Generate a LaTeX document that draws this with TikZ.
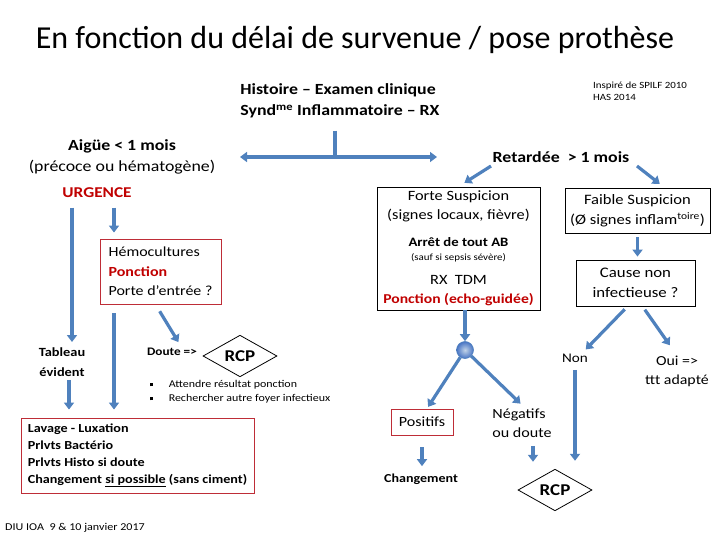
\documentclass[tikz,border=0pt]{standalone}
\usepackage{fontspec}
\setmainfont{Carlito}[FakeStretch=1.15]
\newfontfamily\titlefont{Carlito}
\usepackage{tikz}
\usetikzlibrary{arrows.meta,shapes.geometric}
\definecolor{arrowblue}{RGB}{79,129,189}
\definecolor{urgred}{RGB}{192,0,0}
\definecolor{boxred}{RGB}{190,45,55}
\tikzset{>={Triangle[width=10pt,length=7pt]}}
\tikzset{
  flow/.style={->,draw=arrowblue,line width=3.2pt},
  stem/.style={draw=arrowblue,line width=3.2pt},
  redbox/.style={draw=boxred,line width=0.9pt,align=left},
  blackbox/.style={draw,line width=0.8pt,align=center},
  rcpdiamond/.style={diamond,draw,line width=0.8pt,inner sep=0pt,minimum width=74pt,minimum height=36pt,font=\setfs{16.5}{17}\bfseries},
}
\newcommand\setfs[2]{\fontsize{#1}{#2}\selectfont}

\begin{document}
\begin{tikzpicture}[x=1pt,y=-1pt]
  \useasboundingbox (0,0) rectangle (720,540);

  \node (title) at (355,40) {\titlefont\setfs{32}{36}En fonction du délai de survenue / pose prothèse};

  \node[align=left,font=\setfs{15.5}{21}\bfseries] (hist) at (340,101) {Histoire -- Examen clinique\\Synd\textsuperscript{me} Inflammatoire -- RX};
  \node[align=left,font=\setfs{9.5}{12}] (inspire) at (640,91) {Inspiré de SPILF 2010\\HAS 2014};

  % split early / delayed
  \coordinate (split) at (335,157);
  \coordinate (toaigue) at (240,157);
  \coordinate (toretard) at (437,157);
  \draw[stem,shorten <=9pt] (split |- hist.south) -- (split);
  \draw[flow] (split) -- (toaigue);
  \draw[flow] (split) -- (toretard);

  \node[align=center,font=\setfs{15.5}{21}] (aigue) at (122,157) {\textbf{Aigüe < 1 mois}\\(précoce ou hématogène)};
  \node[font=\setfs{15}{16}\bfseries,text=urgred] (urgence) at (97,193) {URGENCE};
  \node[font=\setfs{15.5}{18}\bfseries] (retard) at (561,157) {Retardée\ \ > 1 mois};

  % delayed side
  \node[blackbox,minimum width=163pt,minimum height=123pt,font=\setfs{14.2}{19}] (forte) at (458.5,248.5)
    {Forte Suspicion\\(signes locaux, fièvre)\\[8pt]{\setfs{12.8}{19}\bfseries Arrêt de tout AB}\\[-5pt]{\setfs{9.5}{9}(sauf si sepsis sévère)}\\[5pt]RX\ \ TDM\\\textcolor{urgred}{\setfs{13.6}{19}\bfseries Ponction (echo-guidée)}};
  \node[blackbox,minimum width=145pt,minimum height=45pt,font=\setfs{14.4}{20}] (faible) at (637.5,210.5) {Faible Suspicion\\(Ø signes inflam\textsuperscript{toire})};
  \node[blackbox,minimum width=119pt,minimum height=46pt,font=\setfs{14.6}{20}] (cause) at (635.5,283) {Cause non\\infectieuse ?};

  \node[circle,minimum size=17pt,inner sep=0pt,draw=arrowblue,line width=0.6pt,inner color=arrowblue!35!white,outer color=arrowblue!90!blue] (hub) at (465,350) {};
  \node[redbox,minimum width=62pt,minimum height=26pt,font=\setfs{14}{16}] (positifs) at (422,422) {Positifs};
  \node[align=left,font=\setfs{14}{19}] (negatifs) at (522,423) {Négatifs\\ou doute};
  \node[font=\setfs{12.2}{15}\bfseries] (changement) at (421,479) {Changement};
  \node[rcpdiamond] (rcpb) at (555,490) {RCP};
  \node[font=\setfs{13.2}{16}] (non) at (575,358) {Non};
  \node[align=center,font=\setfs{13.8}{19}] (oui) at (677,371.5) {Oui =>\\ttt adapté};

  % early side
  \node[redbox,minimum width=121pt,minimum height=65pt,font=\setfs{13.9}{19.5}] (hemo) at (160.5,271.5) {Hémocultures\\\textcolor{urgred}{\textbf{Ponction}}\\Porte d’entrée ?};
  \node[align=center,font=\setfs{12.5}{20}\bfseries] (tableau) at (62,362) {Tableau\\évident};
  \node[font=\setfs{11.5}{15}\bfseries] (doute) at (172,352) {Doute =>};
  \node[rcpdiamond] (rcpa) at (240,356) {RCP};
  \node[font=\setfs{10.4}{14}] (todo) at (240,392)
    {\begin{tabular}{@{}l@{\hspace{16pt}}l@{}}\raisebox{1.5pt}{\rule{3pt}{3pt}} & Attendre résultat ponction\\\raisebox{1.5pt}{\rule{3pt}{3pt}} & Rechercher autre foyer infectieux\end{tabular}};
  \node[redbox,minimum width=233pt,minimum height=75pt,font=\setfs{12.3}{17}\bfseries] (lavage) at (137.5,455.5)
    {Lavage - Luxation\\Prlvts Bactério\\Prlvts Histo si doute\\Changement \underline{si possible} (sans ciment)};

  \node[font=\setfs{10.5}{12}] (diu) at (75,528) {DIU\ IOA\ \ 9 \& 10 janvier 2017};

  % arrows, early
  \draw[flow,shorten <=6pt,shorten >=2pt] ([xshift=-25pt]urgence.south) -- ([xshift=-25pt]urgence.south |- tableau.north);
  \draw[flow,shorten <=6pt,shorten >=6pt] ([xshift=17pt]urgence.south) -- ([xshift=17pt]urgence.south |- hemo.north);
  \draw[flow,shorten <=9pt,shorten >=8pt] ([xshift=-46.5pt]hemo.south) -- ([xshift=-46.5pt]hemo.south |- lavage.north);
  \draw[flow,shorten >=8pt] ([xshift=7pt]tableau.south) -- ([xshift=7pt]tableau.south |- lavage.north);
  \draw[flow,shorten <=8pt,shorten >=3pt] ([xshift=-5pt]hemo.south) -- ([xshift=8pt]doute.north);

  % arrows, delayed
  \draw[flow,shorten >=7pt] ([xshift=-70pt]retard.south) -- (forte.north);
  \draw[flow,shorten >=6pt] ([xshift=76pt]retard.south) -- ([xshift=27pt]faible.north);
  \draw[flow,shorten <=4pt,shorten >=3pt] (faible.south) -- (faible.south |- cause.north);
  \draw[flow,shorten <=4pt,shorten >=1pt] ([xshift=-8pt]cause.south) -- ([xshift=10pt]non.north);
  \draw[flow,shorten <=4pt,shorten >=9pt] ([xshift=7pt]cause.south) -- ([xshift=-2pt]oui.north);
  \draw[flow,shorten <=4pt,shorten >=8pt] (non.south) -- (non.south |- rcpb.north);
  \draw[flow] (hub |- forte.south) -- (hub);
  \draw[flow,shorten >=2pt] (hub) -- ([xshift=5pt]positifs.north);
  \draw[flow,shorten >=2pt] (hub) -- (negatifs.north);
  \draw[flow,shorten <=12pt,shorten >=4pt] (positifs.south) -- (positifs.south |- changement.north);
  \draw[flow,shorten <=5pt,shorten >=7pt] ([xshift=11pt]negatifs.south) -- ([xshift=11pt]negatifs.south |- rcpb.north);
\end{tikzpicture}
\end{document}
